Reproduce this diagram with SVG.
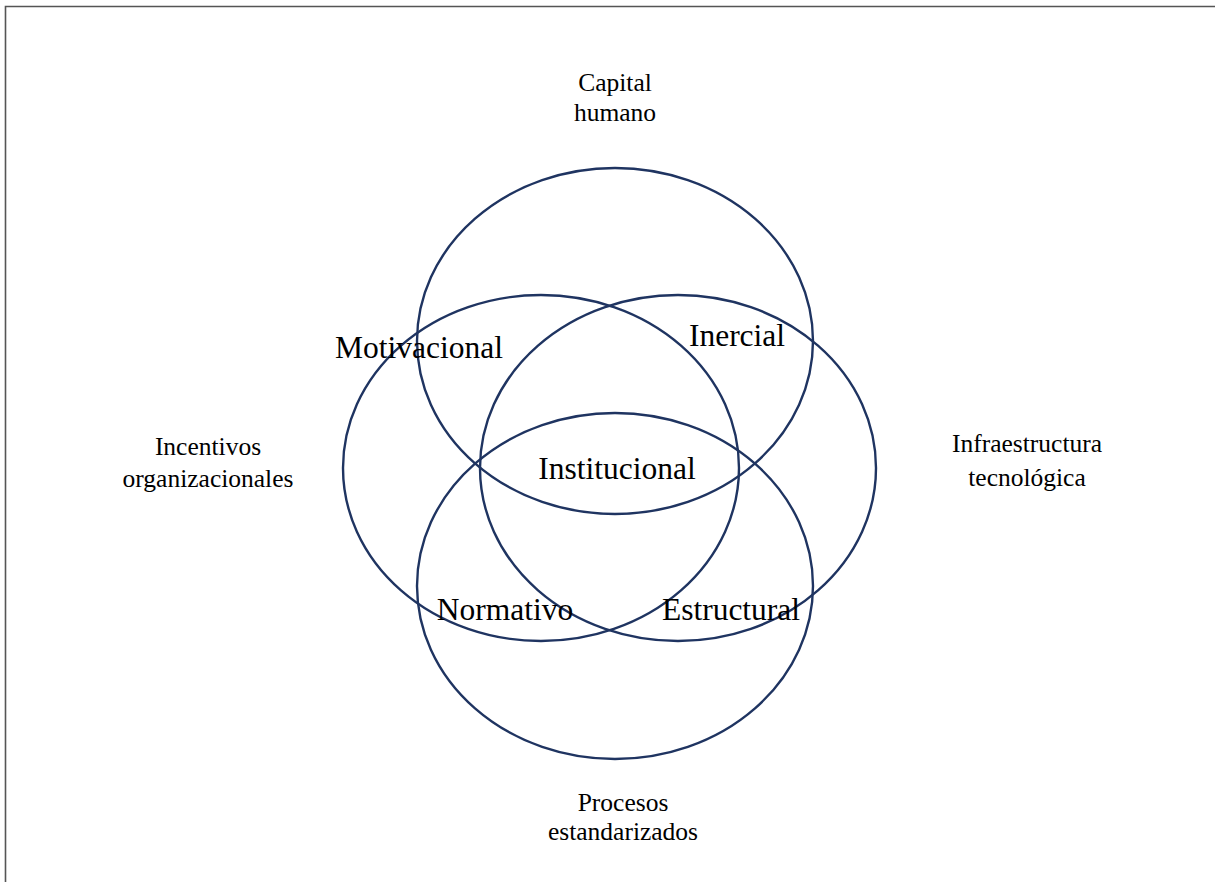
<svg xmlns="http://www.w3.org/2000/svg" width="1215" height="882" viewBox="0 0 1215 882">
  <style>
    .ring { fill: none; stroke: #1f3461; stroke-width: 2.4; }
    .zone { font-family: "Liberation Serif", "Times New Roman", serif; font-size: 31.5px; fill: #000; text-anchor: middle; }
    .axis { font-family: "Liberation Serif", "Times New Roman", serif; font-size: 25.5px; fill: #000; text-anchor: middle; }
    .frame { stroke: #555; stroke-width: 1.6; fill: none; }
  </style>
  <rect width="1215" height="882" fill="#fff"/>
  <!-- frame edges (top and left) -->
  <path class="frame" d="M5.5 882 V6.5 H1215"/>

  <!-- four overlapping dimensions -->
  <g id="ring-top"><ellipse class="ring" cx="615" cy="341" rx="198" ry="173"/></g>
  <g id="ring-left"><ellipse class="ring" cx="541" cy="468" rx="198" ry="173"/></g>
  <g id="ring-right"><ellipse class="ring" cx="678" cy="468" rx="198" ry="173"/></g>
  <g id="ring-bottom"><ellipse class="ring" cx="615" cy="586" rx="198" ry="173"/></g>

  <!-- overlap labels -->
  <g id="motivacional"><text class="zone" x="419" y="358">Motivacional</text></g>
  <g id="inercial"><text class="zone" x="737" y="346">Inercial</text></g>
  <g id="institucional"><text class="zone" x="617" y="479">Institucional</text></g>
  <g id="normativo"><text class="zone" x="505" y="620">Normativo</text></g>
  <g id="estructural"><text class="zone" x="731" y="620">Estructural</text></g>

  <!-- outer labels -->
  <g id="capital-humano">
    <text class="axis" x="615" y="91">Capital</text>
    <text class="axis" x="615" y="121">humano</text>
  </g>
  <g id="incentivos">
    <text class="axis" x="208" y="455">Incentivos</text>
    <text class="axis" x="208" y="487">organizacionales</text>
  </g>
  <g id="infraestructura">
    <text class="axis" x="1027" y="452">Infraestructura</text>
    <text class="axis" x="1027" y="486">tecnológica</text>
  </g>
  <g id="procesos">
    <text class="axis" x="623" y="811">Procesos</text>
    <text class="axis" x="623" y="840">estandarizados</text>
  </g>
</svg>
